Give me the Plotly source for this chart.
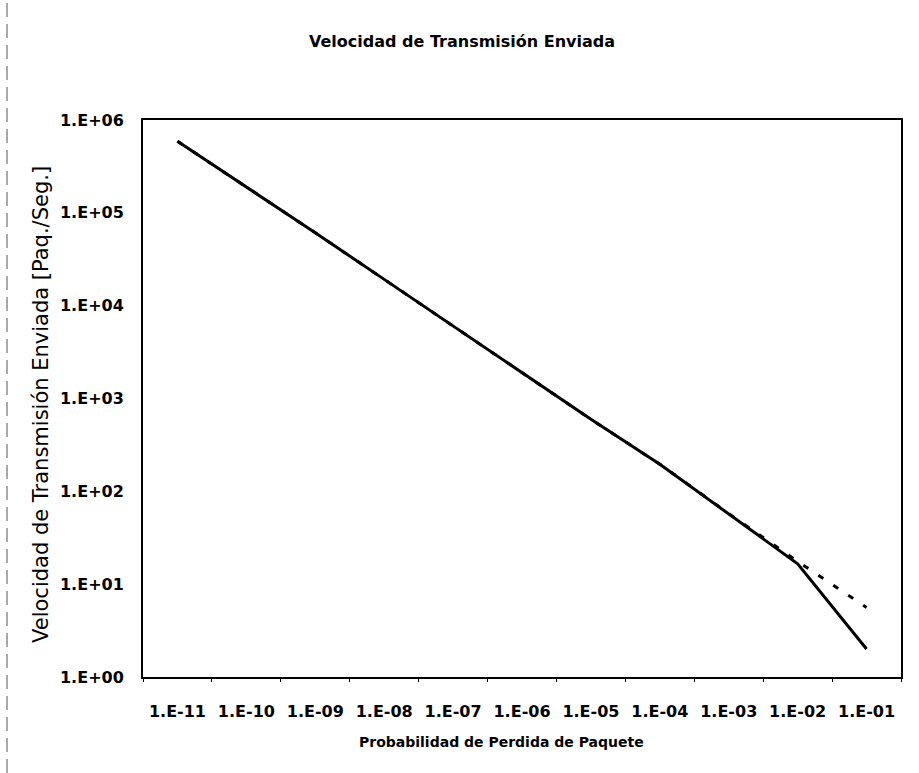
import plotly.graph_objects as go

# Packet loss probability (one point per decade) and sending rate
prob = [1e-11, 1e-10, 1e-9, 1e-8, 1e-7, 1e-6, 1e-5, 1e-4, 1e-3, 1e-2, 1e-1]
x_labels = ["1.E-11", "1.E-10", "1.E-09", "1.E-08", "1.E-07", "1.E-06",
            "1.E-05", "1.E-04", "1.E-03", "1.E-02", "1.E-01"]

# Full model (with timeouts) and the simple square-root model
rate_full = [5.9e5, 1.9e5, 6.1e4, 1.92e4, 6.05e3, 1.91e3, 597, 196, 56.5, 16.6, 2.0]
rate_sqrt = [5.9e5, 1.9e5, 6.1e4, 1.92e4, 6.05e3, 1.91e3, 597, 196, 57.5, 17.6, 5.6]

y_vals = [1, 10, 100, 1e3, 1e4, 1e5, 1e6]
y_labels = ["1.E+00", "1.E+01", "1.E+02", "1.E+03", "1.E+04", "1.E+05", "1.E+06"]

# tick marks sit between the decade labels
x_bounds = [10 ** (k + 0.5) for k in range(-12, 0)]

FONT = "DejaVu Sans"

fig = go.Figure()
fig.add_trace(go.Scatter(
    x=prob, y=rate_sqrt, mode="lines",
    line=dict(color="black", width=3, dash="6px,12px"),
    showlegend=False, hoverinfo="skip"))
fig.add_trace(go.Scatter(
    x=prob, y=rate_full, mode="lines",
    line=dict(color="black", width=3),
    showlegend=False, hoverinfo="skip"))

fig.update_layout(
    width=919, height=773,
    margin=dict(l=143, r=18, t=120, b=96),
    paper_bgcolor="white", plot_bgcolor="white",
    font=dict(family=FONT, color="black"),
    title=dict(text="<b>Velocidad de Transmisión Enviada</b>",
               x=462 / 919, xanchor="center", xref="container",
               y=1 - 41 / 773, yanchor="middle", yref="container",
               font=dict(family=FONT, size=16, color="black")),
    xaxis=dict(
        type="log", range=[-11.5, -0.5],
        tickmode="array", tickvals=prob, ticktext=x_labels,
        ticks="", ticklabelstandoff=19,
        tickfont=dict(family=FONT, size=16, color="black", weight="bold"),
        showgrid=False, zeroline=False,
        showline=True, linecolor="black", linewidth=2, mirror=True,
        minor=dict(tickmode="array", tickvals=x_bounds, ticks="outside",
                   ticklen=3, tickwidth=1, tickcolor="black", showgrid=False),
    ),
    yaxis=dict(
        type="log", range=[0, 6],
        tickmode="array", tickvals=y_vals, ticktext=y_labels,
        ticks="", ticklabelstandoff=14,
        tickfont=dict(family=FONT, size=16, color="black", weight="bold"),
        showgrid=False, zeroline=False,
        showline=True, linecolor="black", linewidth=2, mirror=True,
    ),
    annotations=[
        dict(text="<b>Probabilidad de Perdida de Paquete</b>",
             xref="paper", yref="paper", x=(501 - 143) / 758, y=(677 - 742) / 557,
             xanchor="center", yanchor="middle", showarrow=False,
             font=dict(family=FONT, size=14, color="black")),
        dict(text="Velocidad de Transmisión Enviada [Paq./Seg.]",
             xref="paper", yref="paper", x=(41 - 143) / 758, y=(677 - 405) / 557,
             xanchor="center", yanchor="middle", showarrow=False, textangle=-90,
             font=dict(family=FONT, size=21, color="black")),
    ],
    shapes=[
        dict(type="line", xref="paper", yref="paper",
             x0=(7 - 143) / 758, x1=(7 - 143) / 758,
             y0=(677 - 773) / 557, y1=(677 - 0) / 557,
             line=dict(color="#555555", width=1, dash="14px,7px")),
    ],
)

fig.write_html("out.html")
